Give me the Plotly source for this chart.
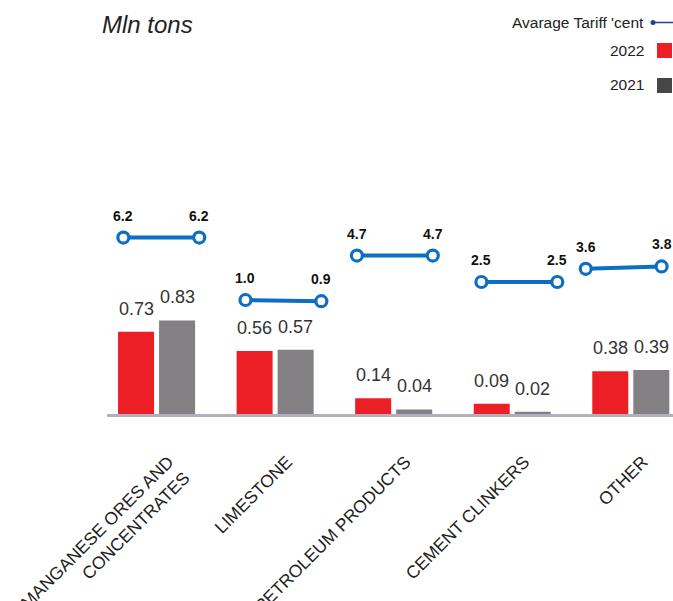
import plotly.graph_objects as go

# ---- data ----
categories = ["MANGANESE ORES AND<br>CONCENTRATES", "LIMESTONE",
              "PETROLEUM PRODUCTS", "CEMENT CLINKERS", "OTHER"]
volume_2022 = [0.73, 0.56, 0.14, 0.09, 0.38]
volume_2021 = [0.83, 0.57, 0.04, 0.02, 0.39]
tariff_2022 = [6.2, 1.0, 4.7, 2.5, 3.6]
tariff_2021 = [6.2, 0.9, 4.7, 2.5, 3.8]

# ---- styling ----
FONT = "Liberation Sans, Arial, Helvetica, sans-serif"
RED = "#ec1f27"
GREY = "#828082"
GREY_LEGEND = "#474747"
BLUE = "#0c6fc4"
NAVY = "#22409a"
TEXT = "#333333"

W, H = 673, 601
L, R, T, B = 107, 0, 100, 187
plot_w = W - L - R
plot_h = H - T - B

X_RANGE = [-0.418, 4.356]
BARGAP = 0.308
BARGROUPGAP = 0.122
slot = (1 - BARGAP) / 2          # width of one bar slot in category units
TARIFF_HALF = 0.32               # half-length of each tariff segment
TARIFF_CENTRE = [0.04, 0.07, 0.01, 0.06, -0.06]  # segment centre offsets

n = len(categories)
idx = list(range(n))

fig = go.Figure()

fig.add_trace(go.Bar(x=categories, y=volume_2022, name="2022",
                     marker=dict(color=RED, line=dict(width=0)),
                     showlegend=False))
fig.add_trace(go.Bar(x=categories, y=volume_2021, name="2021",
                     marker=dict(color=GREY, line=dict(width=0)),
                     showlegend=False))

# tariff segments: one short line per category, separated by gaps
lx, ly = [], []
for i in idx:
    c = i + TARIFF_CENTRE[i]
    lx += [c - TARIFF_HALF, c + TARIFF_HALF, None]
    ly += [tariff_2022[i], tariff_2021[i], None]
fig.add_trace(go.Scatter(
    x=lx, y=ly, xaxis="x2", yaxis="y2", mode="lines+markers",
    name="Avarage Tariff 'cent", showlegend=False,
    line=dict(color=BLUE, width=4),
    marker=dict(size=11, color="white", line=dict(color=BLUE, width=3.2)),
    connectgaps=False, cliponaxis=False,
))

annotations = []
# value labels over the bars
for i in idx:
    for val, off in ((volume_2022[i], -slot / 2), (volume_2021[i], slot / 2)):
        annotations.append(dict(
            x=i + off, y=val, xref="x2", yref="y", text=f"{val:.2f}",
            showarrow=False, yanchor="middle", yshift=23,
            font=dict(family=FONT, size=18, color=TEXT)))
# tariff labels over the markers
for i in idx:
    c = i + TARIFF_CENTRE[i]
    for val, xpos in ((tariff_2022[i], c - TARIFF_HALF),
                      (tariff_2021[i], c + TARIFF_HALF)):
        annotations.append(dict(
            x=xpos, y=val, xref="x2", yref="y2", text=f"<b>{val:.1f}</b>",
            showarrow=False, yanchor="middle", yshift=22,
            font=dict(family=FONT, size=14, color="#111111")))


def px_x(p):
    return (p - L) / plot_w


def px_y(p):
    return (H - B - p) / plot_h


# unit title
annotations.append(dict(
    x=px_x(100), y=px_y(25), xref="paper", yref="paper", text="<i>Mln tons</i>",
    showarrow=False, xanchor="left", yanchor="middle",
    font=dict(family=FONT, size=24, color="#222222")))

# legend (text on the left of its symbol)
legend_items = [("Avarage Tariff 'cent", 22.5), ("2022", 50.5), ("2021", 85)]
for label, yc in legend_items:
    annotations.append(dict(
        x=px_x(646), y=px_y(yc), xref="paper", yref="paper", text=label,
        showarrow=False, xanchor="right", yanchor="middle",
        font=dict(family=FONT, size=15.5, color="#222222")))

shapes = [
    dict(type="line", xref="paper", yref="paper",
         x0=px_x(653), x1=px_x(673), y0=px_y(22.5), y1=px_y(22.5),
         line=dict(color=NAVY, width=1.5)),
    dict(type="circle", xref="paper", yref="paper",
         x0=px_x(650.5), x1=px_x(655.5), y0=px_y(25), y1=px_y(20),
         fillcolor=NAVY, line=dict(color=NAVY, width=0)),
    dict(type="rect", xref="paper", yref="paper",
         x0=px_x(657), x1=px_x(672), y0=px_y(58), y1=px_y(43),
         fillcolor=RED, line=dict(width=0)),
    dict(type="rect", xref="paper", yref="paper",
         x0=px_x(657), x1=px_x(672), y0=px_y(93), y1=px_y(78),
         fillcolor=GREY_LEGEND, line=dict(width=0)),
]

fig.update_layout(
    width=W, height=H,
    margin=dict(l=L, r=R, t=T, b=B, pad=0, autoexpand=False),
    paper_bgcolor="white", plot_bgcolor="white",
    barmode="group", bargap=BARGAP, bargroupgap=BARGROUPGAP,
    showlegend=False,
    font=dict(family=FONT, color=TEXT),
    xaxis=dict(type="category", range=X_RANGE, showgrid=False, zeroline=False,
               showline=True, linecolor="#b0b1ba", linewidth=2.5,
               automargin=False,
               ticks="", tickangle=-45, ticklabelstandoff=28,
               ticklabelshift=12,
               tickfont=dict(family=FONT, size=17.5, color="#222222")),
    xaxis2=dict(overlaying="x", range=X_RANGE, visible=False),
    yaxis=dict(range=[0, plot_h / 112.7], visible=False, fixedrange=True),
    yaxis2=dict(overlaying="y", range=[-(H - B - 312) / 12, (312 - T) / 12],
                visible=False),
    annotations=annotations,
    shapes=shapes,
)

fig.write_html("out.html")
